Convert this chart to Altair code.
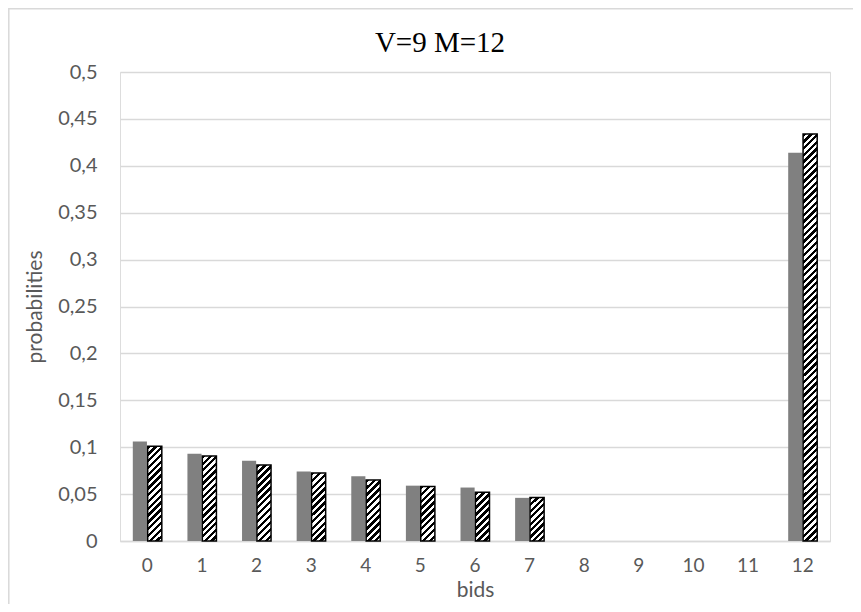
import altair as alt
import pandas as pd

# ---- data ----
bids = [str(i) for i in range(13)]
bar_bids = ["0", "1", "2", "3", "4", "5", "6", "7", "12"]
gray_vals = [0.106, 0.093, 0.0855, 0.074, 0.069, 0.059, 0.057, 0.046, 0.414]
hatch_vals = [0.101, 0.0905, 0.081, 0.0725, 0.065, 0.058, 0.052, 0.0465, 0.434]
y_ticks = [0, 0.05, 0.1, 0.15, 0.2, 0.25, 0.3, 0.35, 0.4, 0.45, 0.5]
chart_title = "V=9 M=12"
x_title = "bids"
y_title = "probabilities"

W, H = 710, 469
Y_MAX = 0.5
LABEL_FONT = "Lato"
LABEL_COLOR = "#595959"
GRID = "#d9d9d9"

rows = []
for b, g, h in zip(bar_bids, gray_vals, hatch_vals):
    rows.append({"bid": b, "series": "gray", "value": g})
    rows.append({"bid": b, "series": "hatch", "value": h})
df = pd.DataFrame(rows)


def stripe_fill(value, bar_w=14.1, period=6.7):
    """Diagonal black/white stripes as a hard-stop linear gradient."""
    h = max(value / Y_MAX * H, 1.0)
    w = bar_w
    n = max(1, round((w + h) / period))
    k = (w + h) / (w * w + h * h)
    stops = []
    for i in range(n):
        a, m, b = i / n, (i + 0.5) / n, (i + 1) / n
        stops += [
            {"offset": a, "color": "black"},
            {"offset": m, "color": "black"},
            {"offset": m, "color": "white"},
            {"offset": b, "color": "white"},
        ]
    return {"gradient": "linear", "x1": 0, "y1": 0, "x2": k * w, "y2": k * h, "stops": stops}


x_enc = alt.X(
    "bid:N",
    sort=bids,
    scale=alt.Scale(domain=bids, paddingInner=0.469, paddingOuter=0.2345),
    axis=alt.Axis(
        labelAngle=0, labelFont=LABEL_FONT, labelFontSize=19, labelColor=LABEL_COLOR,
        labelPadding=15, ticks=False, domain=True, domainColor=GRID, domainWidth=1.3,
        grid=False, titleFont=LABEL_FONT, titleFontSize=21, titleColor=LABEL_COLOR,
        titleFontWeight="normal", titlePadding=4,
    ),
    title=x_title,
)
xoff_enc = alt.XOffset(
    "series:N", scale=alt.Scale(domain=["gray", "hatch"], paddingInner=0.05, paddingOuter=0)
)
y_enc = alt.Y(
    "value:Q",
    scale=alt.Scale(domain=[0, Y_MAX], nice=False),
    axis=alt.Axis(
        values=y_ticks,
        labelExpr="replace(format(datum.value, '.2~f'), '.', ',')",
        labelFont=LABEL_FONT, labelFontSize=20, labelColor=LABEL_COLOR, labelPadding=23,
        ticks=False, domain=False, grid=True, gridColor=GRID, gridWidth=1.3,
        titleFont=LABEL_FONT, titleFontSize=21, titleColor=LABEL_COLOR,
        titleFontWeight="normal", titlePadding=12,
    ),
    title=y_title,
)

base = alt.Chart(df)
gray_layer = base.transform_filter(alt.datum.series == "gray").mark_bar(
    color="#808080"
).encode(x=x_enc, xOffset=xoff_enc, y=y_enc)

hatch_layers = []
for b, v in zip(bar_bids, hatch_vals):
    hatch_layers.append(
        base.transform_filter((alt.datum.series == "hatch") & (alt.datum.bid == b))
        .mark_bar(fill=stripe_fill(v), stroke="black", strokeWidth=1.5)
        .encode(x=x_enc, xOffset=xoff_enc, y=y_enc)
    )

# light chart-area frame (left and top edges visible in the reference)
border = alt.Chart(pd.DataFrame({"k": [0]})).mark_rect(
    fill="transparent", stroke=GRID, strokeWidth=1.5
).encode(x=alt.value(-111.2), x2=alt.value(900), y=alt.value(-63.2), y2=alt.value(700))

chart = alt.layer(border, gray_layer, *hatch_layers).properties(
    width=W,
    height=H,
    autosize=alt.AutoSizeParams(type="none"),
    padding={"left": 112, "top": 64, "right": 23, "bottom": 63},
    title=alt.Title(
        chart_title, font="Liberation Serif", fontSize=29, fontWeight="normal",
        color="black", anchor="middle", frame="group", dx=-35, offset=-50,
    ),
).configure_view(stroke=None).configure(background="white")

chart.save("out.html", embed_options={"renderer": "svg", "actions": False})
